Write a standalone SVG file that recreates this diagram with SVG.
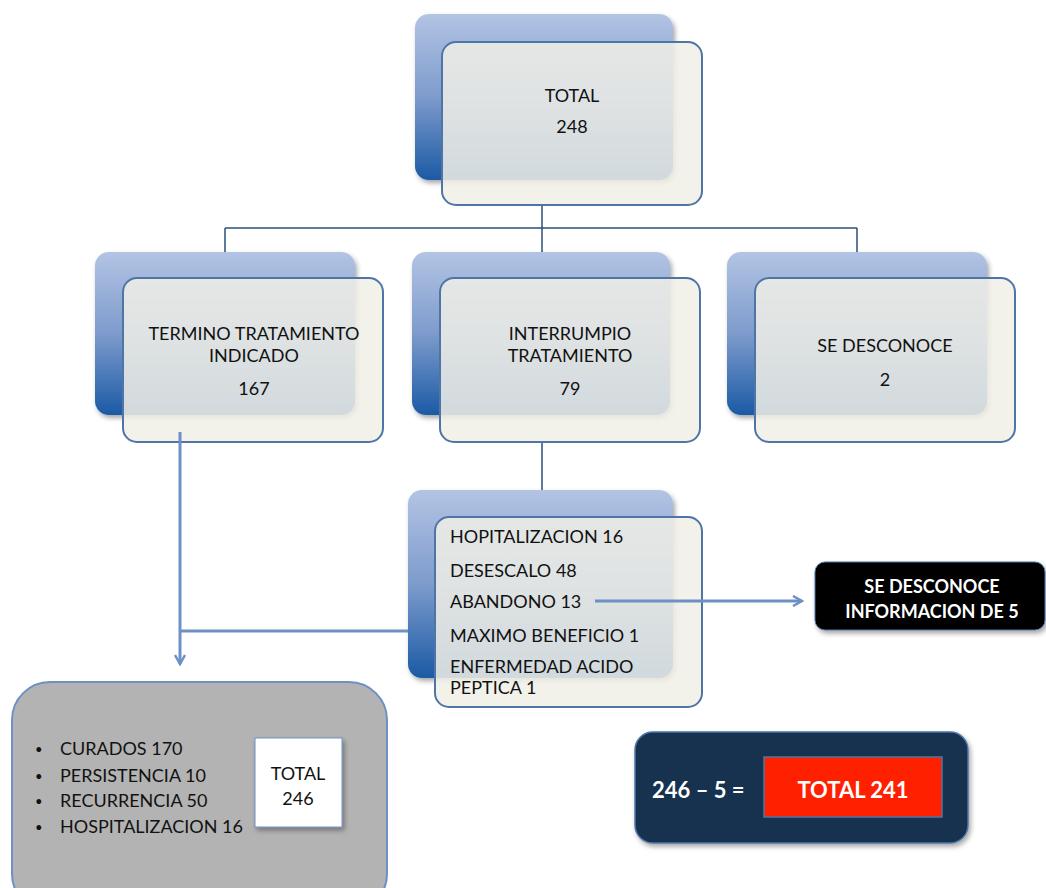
<svg xmlns="http://www.w3.org/2000/svg" width="1046" height="888" viewBox="0 0 1046 888">
<defs>
<linearGradient id="bg" x1="0" y1="0" x2="0" y2="1">
<stop offset="0" stop-color="#b3c4e4"/>
<stop offset="0.5" stop-color="#7d9bcc"/>
<stop offset="1" stop-color="#1b5aa5"/>
</linearGradient>
<filter id="sh" x="-10%" y="-10%" width="130%" height="130%">
<feDropShadow dx="2" dy="3" stdDeviation="2.5" flood-color="#000" flood-opacity="0.35"/>
</filter>
<marker id="ah" viewBox="0 0 12 12" refX="10" refY="6" markerWidth="12" markerHeight="12" markerUnits="userSpaceOnUse" orient="auto">
<path d="M1,1 L10,6 L1,11" fill="none" stroke="#6d90c5" stroke-width="2.5"/>
</marker>
<style>
.back{fill:url(#bg);}
.front{fill:#f0efe7;fill-opacity:0.86;stroke:#4f75a6;stroke-width:2;}
.t{font-family:Lato,"Open Sans",sans-serif;font-size:18px;fill:#111;}
.c{text-anchor:middle;}
.w{fill:#ffffff;font-weight:bold;}
.con{fill:none;stroke:#2d4f7c;stroke-width:1.5;}
.blue{fill:none;stroke:#6d90c5;stroke-width:3;}
</style>
</defs>
<g id="n-total">
<rect class="back" x="415" y="14" width="258" height="166" rx="14" filter="url(#sh)"/>
<rect class="front" x="442" y="42" width="260" height="163" rx="14"/>
<text class="t c" x="572" y="102">TOTAL</text>
<text class="t c" x="572" y="133">248</text>
</g>
<g id="n-termino">
<rect class="back" x="95" y="252" width="260" height="163" rx="14" filter="url(#sh)"/>
<rect class="front" x="123" y="278" width="260" height="164" rx="14"/>
<text class="t c" x="254" y="340">TERMINO TRATAMIENTO</text>
<text class="t c" x="254" y="362">INDICADO</text>
<text class="t c" x="254" y="395">167</text>
</g>
<g id="n-interrumpio">
<rect class="back" x="412" y="252" width="258" height="163" rx="14" filter="url(#sh)"/>
<rect class="front" x="440" y="278" width="260" height="164" rx="14"/>
<text class="t c" x="570" y="340">INTERRUMPIO</text>
<text class="t c" x="570" y="362">TRATAMIENTO</text>
<text class="t c" x="570" y="395">79</text>
</g>
<g id="n-desconoce">
<rect class="back" x="727" y="252" width="260" height="163" rx="14" filter="url(#sh)"/>
<rect class="front" x="755" y="278" width="260" height="164" rx="14"/>
<text class="t c" x="885" y="352">SE DESCONOCE</text>
<text class="t c" x="885" y="386">2</text>
</g>
<g id="n-lista">
<rect class="back" x="408" y="490" width="265" height="188" rx="14" filter="url(#sh)"/>
<rect class="front" x="435" y="517" width="267" height="190" rx="14"/>
<text class="t" x="450" y="543">HOPITALIZACION 16</text>
<text class="t" x="450" y="577">DESESCALO 48</text>
<text class="t" x="450" y="608">ABANDONO 13</text>
<text class="t" x="450" y="642">MAXIMO BENEFICIO 1</text>
<text class="t" x="450" y="673">ENFERMEDAD ACIDO</text>
<text class="t" x="450" y="694">PEPTICA 1</text>
</g>
<g id="n-info">
<rect x="815" y="562" width="230" height="68" rx="10" fill="#000" stroke="#4f75a6" stroke-width="1" filter="url(#sh)"/>
<text class="t c w" x="932" y="593">SE DESCONOCE</text>
<text class="t c w" x="932" y="618">INFORMACION DE 5</text>
</g>
<g id="n-resultados">
<rect x="12" y="682" width="375" height="230" rx="38" fill="#b3b3b3" stroke="#6d90c5" stroke-width="2"/>
<text class="t" x="35" y="754" style="font-size:13px">•</text>
<text class="t" x="60" y="755">CURADOS 170</text>
<text class="t" x="35" y="781" style="font-size:13px">•</text>
<text class="t" x="60" y="782">PERSISTENCIA 10</text>
<text class="t" x="35" y="806" style="font-size:13px">•</text>
<text class="t" x="60" y="807">RECURRENCIA 50</text>
<text class="t" x="35" y="832" style="font-size:13px">•</text>
<text class="t" x="60" y="833">HOSPITALIZACION 16</text>
<rect x="255" y="738" width="87" height="89" fill="#fff" stroke="#6d90c5" stroke-width="1" filter="url(#sh)"/>
<text class="t c" x="298" y="780">TOTAL</text>
<text class="t c" x="298" y="805">246</text>
</g>
<g id="n-total241">
<rect x="635" y="732" width="333" height="111" rx="18" fill="#14304f" stroke="#4f75a6" stroke-width="1.5" filter="url(#sh)"/>
<text class="t w" x="652" y="798" style="font-size:22px">246 – 5 =</text>
<rect x="764" y="757" width="178" height="60" fill="#ff2000" stroke="#4f75a6" stroke-width="1.5"/>
<text class="t c w" x="853" y="798" style="font-size:22px">TOTAL 241</text>
</g>
<g id="connectors">
<path class="con" d="M542,206 V228 M225,228 H857 M225,228 V252 M542,228 V252 M857,228 V252 M542,443 V490"/>
<path class="blue" d="M180,432 V664" marker-end="url(#ah)"/>
<path class="blue" d="M180,631 H408"/>
<path class="blue" d="M595,601 H802" marker-end="url(#ah)"/>
</g>
</svg>
